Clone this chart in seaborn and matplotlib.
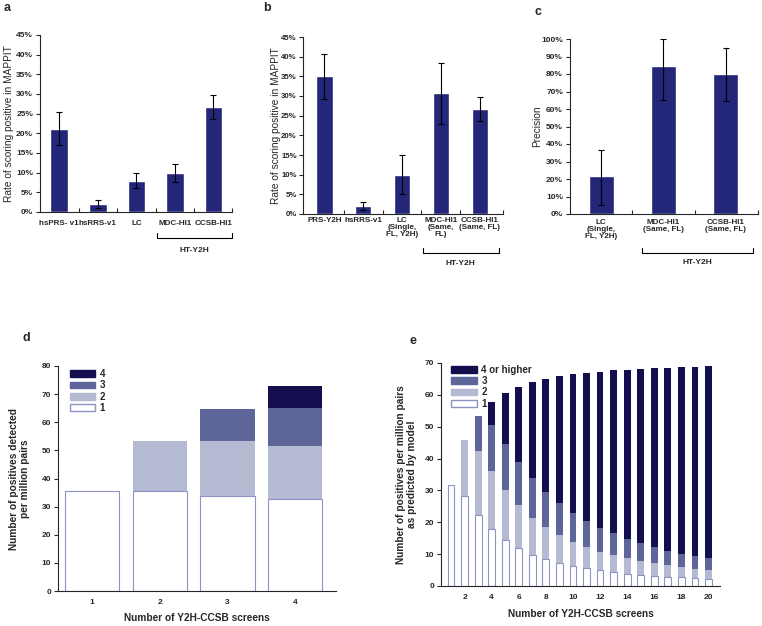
import numpy as np
import pandas as pd
import seaborn as sns
import matplotlib.pyplot as plt
from matplotlib.patches import Patch
from matplotlib.ticker import FixedLocator

sns.set_style("ticks")
plt.rcParams["font.family"] = ["Liberation Sans", "DejaVu Sans"]
plt.rcParams["axes.linewidth"] = 0.8

NAVY = "#232679"
C4, C3, C2, C1, EDGE = "#130F4F", "#5E6599", "#B5BAD3", "#FFFFFF", "#8E93C4"

# ---- data ----
a_labels = ["hsPRS- v1", "hsRRS-v1", "LC", "MDC-HI1", "CCSB-HI1"]
a_rate = [21.2, 2.1, 8.0, 10.0, 26.7]
a_err = [4.1, 1.0, 2.0, 2.3, 3.1]

b_labels = ["PRS-Y2H", "hsRRS-v1", "LC\n(Single,\nFL, Y2H)", "MDC-HI1\n(Same,\nFL)", "CCSB-HI1\n(Same, FL)"]
b_rate = [35.0, 2.1, 10.0, 30.7, 26.7]
b_err = [5.7, 1.0, 4.9, 7.8, 3.1]

c_labels = ["LC\n(Single,\nFL, Y2H)", "MDC-HI1\n(Same, FL)", "CCSB-HI1\n(Same, FL)"]
c_prec = [22.0, 84.5, 80.0]
c_err_lo = [17.0, 19.5, 15.5]
c_err_hi = [14.5, 15.5, 15.0]

# panel d: positives found in exactly k of n screens (segment sizes)
d_screens = [1, 2, 3, 4]
d_seg1 = [35.4, 35.7, 33.9, 32.8]
d_seg2 = [0.0, 17.6, 19.4, 18.7]
d_seg3 = [0.0, 0.0, 11.4, 13.5]
d_seg4 = [0.0, 0.0, 0.0, 8.0]

# panel e: model prediction, cumulative tops of each stack level
e_screens = list(range(1, 21))
e_top1 = [31.8, 28.1, 22.4, 17.9, 14.3, 11.8, 9.8, 8.4, 7.1, 6.2,
          5.5, 4.9, 4.4, 3.9, 3.6, 3.2, 2.9, 2.7, 2.4, 2.3]
e_top2 = [31.8, 45.8, 42.3, 36.0, 30.2, 25.4, 21.5, 18.5, 16.0, 13.8,
          12.3, 10.8, 9.7, 8.7, 7.8, 7.1, 6.5, 6.1, 5.4, 5.1]
e_top3 = [31.8, 45.8, 53.3, 50.4, 44.7, 39.0, 33.9, 29.5, 25.9, 22.9,
          20.3, 18.2, 16.5, 14.8, 13.4, 12.1, 11.1, 10.2, 9.4, 8.7]
e_top4 = [31.8, 45.8, 53.3, 57.8, 60.7, 62.6, 64.0, 65.1, 65.9, 66.5,
          66.9, 67.3, 67.7, 67.9, 68.2, 68.3, 68.5, 68.8, 68.9, 69.0]

W, H = 762, 626
fig = plt.figure(figsize=(W / 100, H / 100), dpi=100)

def px_axes(x0, y0, x1, y1):
    return fig.add_axes([x0 / W, 1 - y1 / H, (x1 - x0) / W, (y1 - y0) / H])

def style_axes(ax, tick_fs=6, ypad=2):
    sns.despine(ax=ax)
    ax.tick_params(axis="y", direction="out", length=3, width=0.8, labelsize=tick_fs, pad=ypad)
    for t in ax.get_yticklabels():
        t.set_fontweight("bold")

def pct_panel(ax, labels, vals, yerr, width, xlim, ymax, ystep, ylabel, ylab_x, xpad,
              ypad=2, ytick_fs=6):
    df = pd.DataFrame({"cat": labels, "val": vals})
    sns.barplot(data=df, x="cat", y="val", color=NAVY, saturation=1, width=width,
                errorbar=None, ax=ax)
    ax.errorbar(range(len(vals)), vals, yerr=yerr, fmt="none", ecolor="black",
                elinewidth=0.8, capsize=2.5, capthick=0.8)
    ax.set_xlim(*xlim)
    ax.set_ylim(0, ymax)
    ticks = np.arange(0, ymax + 0.1, ystep)
    ax.set_yticks(ticks)
    ax.set_yticklabels([f"{int(t)}%" for t in ticks])
    ax.set_xlabel("")
    ax.set_ylabel(ylabel, fontsize=7.3)
    ax.yaxis.set_label_coords(ylab_x, 0.5)
    style_axes(ax, ytick_fs, ypad)
    ax.tick_params(axis="x", which="major", length=0, labelsize=5.8, pad=xpad)
    for t in ax.get_xticklabels():
        t.set_fontweight("bold")
        t.set_linespacing(1.05)
    bounds = list(np.arange(0.5, len(vals) - 0.5, 1.0)) + [xlim[1]]
    ax.xaxis.set_minor_locator(FixedLocator(bounds))
    ax.tick_params(axis="x", which="minor", direction="in", length=3, width=0.8)

def bracket(ax, x0, x1, y, ytop, ylab, xlab):
    tr = ax.get_xaxis_transform()
    ax.plot([x0, x0, x1, x1], [ytop, y, y, ytop], color="black", lw=0.8,
            transform=tr, clip_on=False)
    ax.text(xlab, ylab, "HT-Y2H", transform=tr, ha="center", va="center",
            fontsize=6, fontweight="bold")

# ---- a ----
ax_a = px_axes(40, 35, 232, 212)
pct_panel(ax_a, a_labels, a_rate, a_err, 0.46, (-0.5, 4.48), 45, 5,
          "Rate of scoring positive in MAPPIT", -0.135, 6)
bracket(ax_a, 2.535, 4.48, -0.147, -0.119, -0.215, 3.5)

# ---- b ----
ax_b = px_axes(303, 37, 503, 214)
pct_panel(ax_b, b_labels, b_rate, b_err, 0.42, (-0.55, 4.6), 45, 5,
          "Rate of scoring positive in MAPPIT", -0.112, 2, ypad=1.5, ytick_fs=5.6)
bracket(ax_b, 2.54, 4.5, -0.22, -0.192, -0.277, 3.5)

# ---- c ----
ax_c = px_axes(570, 39, 758, 214)
pct_panel(ax_c, c_labels, c_prec, [c_err_lo, c_err_hi], 0.4, (-0.5, 2.52), 100, 10,
          "Precision", -0.149, 3.5)
bracket(ax_c, 0.657, 2.44, -0.223, -0.194, -0.28, 1.54)

# ---- d ----
ax_d = px_axes(58, 366, 336, 591)
d_cum = np.cumsum([d_seg1, d_seg2, d_seg3, d_seg4], axis=0)
layers = [(d_cum[3], C4), (d_cum[2], C3), (d_cum[1], C2), (d_cum[0], C1)]
for tops, col in layers:
    edge = EDGE if col == C1 else col
    sns.barplot(x=d_screens, y=tops, color=col, saturation=1, width=0.8,
                errorbar=None, edgecolor=edge, linewidth=0.8 if col == C1 else 0, ax=ax_d)
ax_d.set_xlim(-0.5, 3.6)
ax_d.set_ylim(0, 80)
ax_d.set_yticks(range(0, 81, 10))
ax_d.set_ylabel("Number of positives detected\nper million pairs", fontsize=7.3,
                fontweight="bold", linespacing=1.1)
ax_d.yaxis.set_label_coords(-0.10, 0.5)
ax_d.set_xlabel("Number of Y2H-CCSB screens", fontsize=7.3, fontweight="bold")
ax_d.xaxis.set_label_coords(0.5, -0.098)
style_axes(ax_d)
ax_d.tick_params(axis="x", which="major", length=0, labelsize=6, pad=6)
for t in ax_d.get_xticklabels():
    t.set_fontweight("bold")

def stack_legend(ax, labels, anchor):
    handles = [Patch(facecolor=C4, edgecolor=C4), Patch(facecolor=C3, edgecolor=C3),
               Patch(facecolor=C2, edgecolor=C2), Patch(facecolor=C1, edgecolor=EDGE)]
    ax.legend(handles, labels, loc="upper left", bbox_to_anchor=anchor, frameon=False,
              handlelength=2.6, handleheight=0.7, labelspacing=0.13, handletextpad=0.5,
              borderaxespad=0, borderpad=0.2, prop={"size": 7, "weight": "bold"})

stack_legend(ax_d, ["4", "3", "2", "1"], (0.035, 0.995))

# ---- e ----
ax_e = px_axes(441, 363, 720, 586)
for tops, col in [(e_top4, C4), (e_top3, C3), (e_top2, C2), (e_top1, C1)]:
    edge = EDGE if col == C1 else col
    sns.barplot(x=e_screens, y=tops, color=col, saturation=1, width=0.5,
                errorbar=None, edgecolor=edge, linewidth=0.8 if col == C1 else 0, ax=ax_e)
ax_e.set_xlim(-0.74, 19.85)
ax_e.set_ylim(0, 70)
ax_e.set_yticks(range(0, 71, 10))
ax_e.set_xticks(range(1, 20, 2))
ax_e.set_xticklabels([str(s) for s in e_screens[1::2]])
ax_e.set_ylabel("Number of positives per million pairs\nas predicted by model", fontsize=7.3,
                fontweight="bold", linespacing=1.1)
ax_e.yaxis.set_label_coords(-0.086, 0.5)
ax_e.set_xlabel("Number of Y2H-CCSB screens", fontsize=7.3, fontweight="bold")
ax_e.xaxis.set_label_coords(0.5, -0.103)
style_axes(ax_e)
ax_e.tick_params(axis="x", which="major", length=0, labelsize=6, pad=6)
for t in ax_e.get_xticklabels():
    t.set_fontweight("bold")
stack_legend(ax_e, ["4 or higher", "3", "2", "1"], (0.03, 1.0))

# panel letters
for txt, x, y in [("a", 7, 8), ("b", 267, 8), ("c", 538, 12), ("d", 26, 338), ("e", 413, 341)]:
    fig.text(x / W, 1 - y / H, txt, fontsize=9, fontweight="bold", ha="center", va="center")

fig.savefig("out.png", dpi=100)
